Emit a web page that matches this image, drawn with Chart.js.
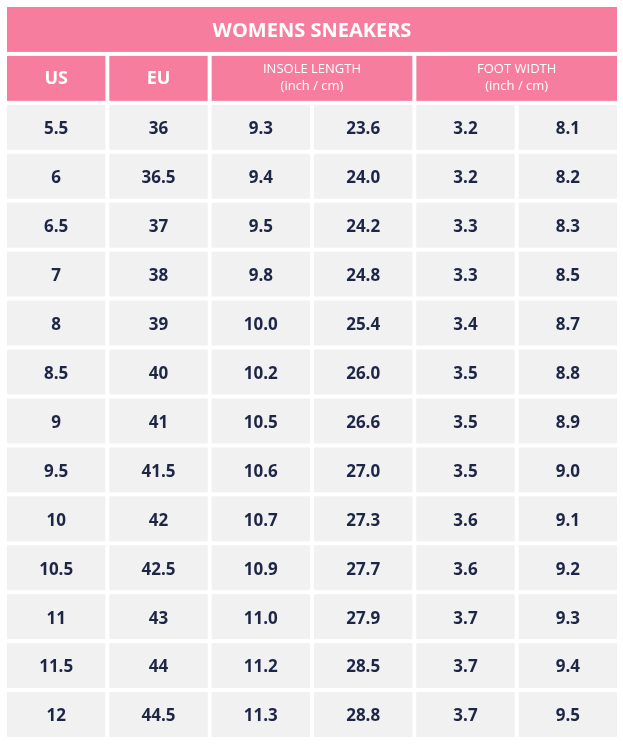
<!DOCTYPE html>
<html><head><meta charset="utf-8">
<script src="https://cdn.jsdelivr.net/npm/chart.js@4/dist/chart.umd.min.js"></script>
<style>html,body{margin:0;padding:0;background:#fff}#w{width:623px;height:744px}</style>
</head><body><div id="w"><canvas id="c"></canvas></div>
<script>
const title = "WOMENS SNEAKERS";
const headers = ["US", "EU", "INSOLE LENGTH\n(inch / cm)", "FOOT WIDTH\n(inch / cm)"];
const us = ["5.5","6","6.5","7","8","8.5","9","9.5","10","10.5","11","11.5","12"];
const eu = ["36","36.5","37","38","39","40","41","41.5","42","42.5","43","44","44.5"];
const insoleInch = ["9.3","9.4","9.5","9.8","10.0","10.2","10.5","10.6","10.7","10.9","11.0","11.2","11.3"];
const insoleCm = ["23.6","24.0","24.2","24.8","25.4","26.0","26.6","27.0","27.3","27.7","27.9","28.5","28.8"];
const widthInch = ["3.2","3.2","3.3","3.3","3.4","3.5","3.5","3.5","3.6","3.6","3.7","3.7","3.7"];
const widthCm = ["8.1","8.2","8.3","8.5","8.7","8.8","8.9","9.0","9.1","9.2","9.3","9.4","9.5"];

const PINK = "#f77d9f", CELL = "#f1f1f2", INK = "#1e2646";
const columns = [us, eu, insoleInch, insoleCm, widthInch, widthCm];
const headerSpans = [[0,1],[1,2],[2,4],[4,6]];
const nRows = 2 + us.length;

const tablePlugin = {
  id: "table",
  afterDraw(chart) {
    const ctx = chart.ctx, xs = chart.scales.x, ys = chart.scales.y;
    const g = 2;
    const cell = (c0, c1, r, fill) => {
      const x0 = xs.getPixelForValue(c0) + g, x1 = xs.getPixelForValue(c1) - g;
      const y0 = ys.getPixelForValue(r) + g, y1 = ys.getPixelForValue(r + 1) - g;
      ctx.fillStyle = fill; ctx.fillRect(x0, y0, x1 - x0, y1 - y0);
      return [(x0 + x1) / 2, (y0 + y1) / 2];
    };
    ctx.save();
    ctx.textAlign = "center"; ctx.textBaseline = "middle";
    let [cx, cy] = cell(0, 6, 0, PINK);
    ctx.fillStyle = "#fff"; ctx.font = "bold 20px 'Open Sans'";
    ctx.fillText(title, cx, cy + 2);
    headerSpans.forEach((s, i) => {
      [cx, cy] = cell(s[0], s[1], 1, PINK);
      ctx.fillStyle = "#fff";
      const lines = headers[i].split("\n");
      if (lines.length === 1) { ctx.font = "bold 18px 'Open Sans'"; ctx.fillText(lines[0], cx, cy); }
      else { ctx.font = "13px 'Open Sans'"; ctx.fillText(lines[0], cx, cy - 9); ctx.fillText(lines[1], cx, cy + 8); }
    });
    ctx.font = "bold 17px 'Open Sans'";
    for (let r = 0; r < us.length; r++) {
      columns.forEach((col, c) => {
        [cx, cy] = cell(c, c + 1, r + 2, CELL);
        ctx.fillStyle = INK; ctx.fillText(col[r], cx, cy + 2);
      });
    }
    ctx.restore();
  }
};

new Chart(document.getElementById("c"), {
  type: "scatter",
  data: { datasets: [{ data: [] }] },
  options: {
    responsive: true, maintainAspectRatio: false, animation: false,
    layout: { padding: { left: 5, right: 4, top: 5, bottom: 5 } },
    plugins: { legend: { display: false }, tooltip: { enabled: false } },
    scales: {
      x: { type: "linear", min: 0, max: 6, display: false },
      y: { type: "linear", min: 0, max: nRows, reverse: true, display: false }
    }
  },
  plugins: [tablePlugin]
});
</script></body></html>
